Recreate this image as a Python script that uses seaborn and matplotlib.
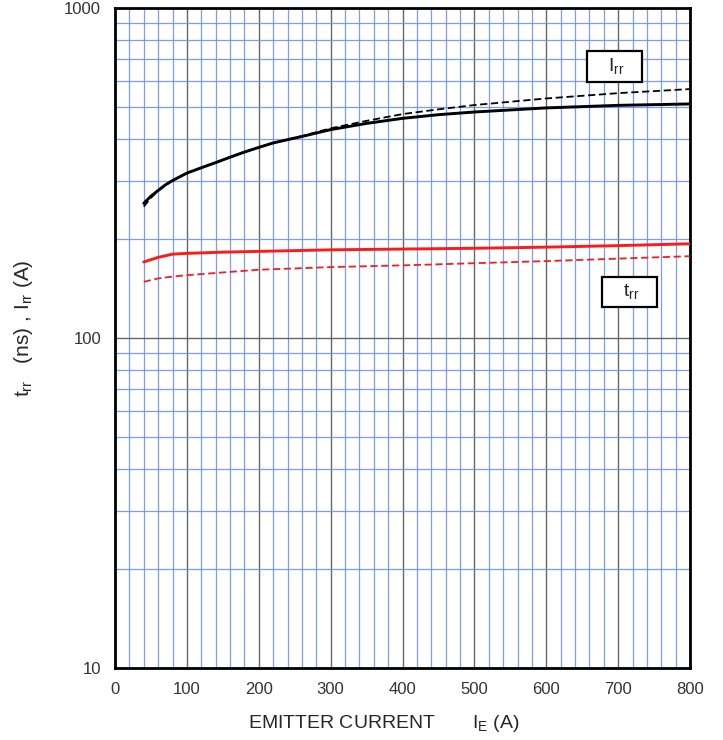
import matplotlib
matplotlib.use("Agg")
import matplotlib.pyplot as plt
import matplotlib.ticker as mticker
import numpy as np
import pandas as pd
import seaborn as sns

# Values
irr_current = [40, 50, 60, 70, 80, 100, 120, 140, 160, 180, 200, 220, 240,
               260, 300, 350, 400, 450, 500, 600, 700, 800]
irr_solid = [256, 269, 280, 291, 300, 316, 328, 340, 353, 366, 378, 390, 399,
             408, 428, 447, 463, 475, 484, 498, 507, 512]
irr_dashed = [250, 266, 279, 290, 300, 316, 328, 340, 353, 366, 378, 390, 399,
              409, 432, 455, 477, 493, 508, 532, 552, 568]

trr_current = [40, 60, 80, 100, 150, 200, 300, 400, 500, 600, 700, 800]
trr_solid = [170, 175.5, 179.5, 180.5, 182, 183, 185, 186, 187, 188.5, 190.5, 193]
trr_dashed = [148, 151.5, 153.5, 155, 158, 161, 164, 166, 168.5, 171, 174, 177]

y_ticks = [10, 100, 1000]
x_ticks = [0, 100, 200, 300, 400, 500, 600, 700, 800]

frames = []
for name, xs, ys in [("Irr solid", irr_current, irr_solid),
                     ("Irr dashed", irr_current, irr_dashed),
                     ("trr solid", trr_current, trr_solid),
                     ("trr dashed", trr_current, trr_dashed)]:
    frames.append(pd.DataFrame({"current": xs, "value": ys, "curve": name}))
df = pd.concat(frames, ignore_index=True)

sns.set_style("white")
plt.rcParams["font.family"] = ["Liberation Sans", "DejaVu Sans"]
plt.rcParams["mathtext.fontset"] = "custom"
plt.rcParams["mathtext.rm"] = "Liberation Sans"
plt.rcParams["mathtext.it"] = "Liberation Sans"

fig = plt.figure(figsize=(7.23, 7.40), dpi=100)
ax = fig.add_axes([115 / 723, 72 / 740, 575 / 723, 660 / 740])

palette = {"Irr solid": "black", "Irr dashed": "black",
           "trr solid": "#ff1a1a", "trr dashed": "#ff1a1a"}
dashes = {"Irr solid": "", "Irr dashed": (4, 2),
          "trr solid": "", "trr dashed": (4, 2)}
sizes = {"Irr solid": 2.1, "Irr dashed": 1.3,
         "trr solid": 2.1, "trr dashed": 1.3}

sns.lineplot(data=df, x="current", y="value", hue="curve", style="curve",
             size="curve", palette=palette, dashes=dashes, sizes=sizes,
             legend=False, ax=ax, zorder=3)

ax.set_yscale("log")
ax.set_xlim(0, 800)
ax.set_ylim(10, 1000)

ax.xaxis.set_major_locator(mticker.FixedLocator(x_ticks))
ax.xaxis.set_minor_locator(mticker.MultipleLocator(20))
ax.yaxis.set_major_locator(mticker.FixedLocator(y_ticks))
ax.yaxis.set_major_formatter(mticker.FuncFormatter(lambda v, p: f"{int(v)}"))
ax.yaxis.set_minor_locator(mticker.LogLocator(base=10, subs=np.arange(2, 10)))
ax.yaxis.set_minor_formatter(mticker.NullFormatter())

ax.grid(which="minor", color="#7090f5", lw=0.9, alpha=0.9)
ax.grid(which="major", color="#666666", lw=1.0)
ax.set_axisbelow(True)

ax.tick_params(which="major", direction="inout", length=8, width=1,
               color="black", labelsize=12, labelcolor="#333333", pad=6)
ax.tick_params(which="minor", length=0)
for s in ax.spines.values():
    s.set_color("black")
    s.set_linewidth(2)

ax.set_xlabel("EMITTER CURRENT       I$_{\\mathrm{E}}$ (A)", fontsize=14)
ax.xaxis.set_label_coords(0.467, -0.068)
ax.set_ylabel("t$_{\\mathrm{rr}}$   (ns) , I$_{\\mathrm{rr}}$ (A)", fontsize=15)
ax.yaxis.set_label_coords(-0.139, 0.515)

box = dict(boxstyle="square,pad=0.28", fc="white", ec="black", lw=1.6)
ax.text(695, 665, "   I$_{\\mathrm{rr}}$   ", fontsize=14, ha="center", va="center",
        bbox=box, zorder=5)
ax.text(716, 138, "   t$_{\\mathrm{rr}}$   ", fontsize=14, ha="center", va="center",
        bbox=box, zorder=5)

fig.savefig("out.png", dpi=100)
